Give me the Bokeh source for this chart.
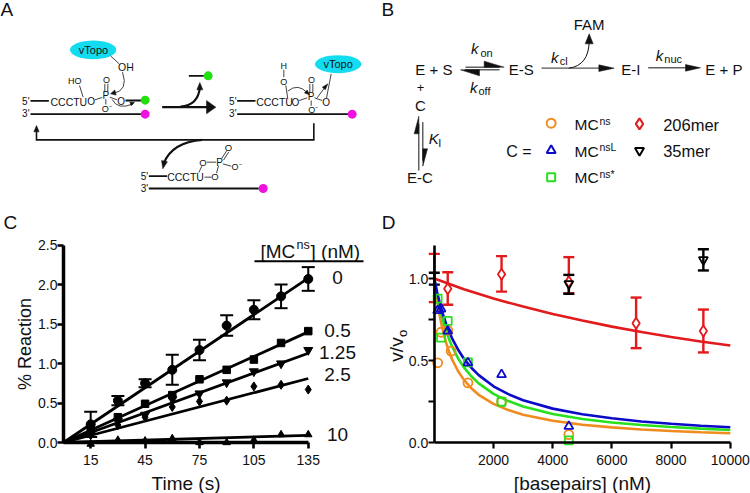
from bokeh.plotting import figure
from bokeh.layouts import column, row
from bokeh.models import Range1d, FixedTicker, Whisker, TeeHead, ColumnDataSource
from bokeh.core.properties import value
from bokeh.embed import file_html
from bokeh.resources import INLINE

FONT = "Liberation Sans"
SPLIT = 205  # page y where the upper panels end

# ---------- panel C data ----------
times = [15, 30, 45, 60, 75, 90, 105, 120, 135]
c_0 = [0.23, 0.53, 0.75, 0.92, 1.17, 1.48, 1.68, 1.85, 2.07]
c_0_err = [0.16, 0.06, 0.05, 0.19, 0.13, 0.13, 0.12, 0.15, 0.15]
c_05 = [0.15, 0.32, 0.49, 0.60, 0.80, 0.92, 1.05, 1.26, 1.41]
c_125 = [0.10, 0.27, 0.35, 0.55, 0.62, 0.76, 0.90, 1.00, 1.17]
c_25 = [0.10, 0.22, 0.32, 0.45, 0.52, 0.53, 0.71, 0.73, 0.67]
c_10 = [-0.02, 0.03, 0.02, 0.05, 0.00, 0.00, 0.03, 0.10, 0.10]
fit_t = [0, 135]
fit_0 = [0, 2.08]
fit_05 = [0, 1.40]
fit_125 = [0, 1.13]
fit_25 = [0, 0.81]
fit_10 = [0, 0.09]
c_labels = ["0", "0.5", "1.25", "2.5", "10"]

# ---------- panel D data ----------
bp = [113, 227, 454, 568, 1136, 2272, 4545]
mc_ns = [0.487, 0.673, 0.684, 0.558, 0.365, 0.25, 0.05]
bp_star = [113, 227, 454, 1136, 2272, 4545]
mc_star = [0.878, 0.64, 0.742, 0.49, 0.25, 0.015]
mc_nsl = [0.805, 0.815, 0.68, 0.487, 0.415, 0.10]
bp_206 = [0, 454, 2272, 4545, 6818, 9090]
y_206 = [1.0, 0.937, 1.026, 0.98, 0.728, 0.68]
lo_206 = [0.856, 0.84, 0.92, 0.91, 0.576, 0.55]
hi_206 = [1.15, 1.038, 1.136, 1.13, 0.884, 0.811]
bp_35 = [0, 4545, 9090]
y_35 = [1.0, 0.968, 1.114]
lo_35 = [0.963, 0.907, 1.049]
hi_35 = [1.035, 1.022, 1.178]
curve_x = [0, 100, 200, 300, 400, 500, 600, 800, 1000, 1250, 1500, 2000, 2500, 3000,
           4000, 5000, 6000, 7000, 8000, 9000, 10000]
curve_nsl = [1, .913, .84, .778, .724, .677, .636, .568, .512, .457, .412, .344, .296, .259,
             .208, .174, .149, .130, .116, .104, .095]
curve_star = [1, .895, .81, .739, .68, .63, .586, .515, .459, .405, .362, .298, .254, .221,
              .175, .145, .124, .108, .096, .086, .078]
curve_ns = [1, .861, .756, .674, .608, .554, .508, .437, .383, .332, .292, .237, .199, .171,
            .134, .110, .094, .081, .072, .064, .058]
curve_x206 = [0, 1000, 2000, 3000, 4000, 5000, 6000, 7000, 8000, 9000, 10000]
curve_206 = [1, .935, .878, .829, .784, .744, .707, .674, .644, .617, .592]

ORANGE, GREEN, BLUE, RED = "#F08C1E", "#29E01F", "#0B0BC8", "#E31A1C"
CYAN, LIME, MAGENTA = "#14DCF0", "#22E010", "#F010E0"


def base(w, h, xr, yr, axes=True):
    p = figure(width=w, height=h, x_range=Range1d(*xr), y_range=Range1d(*yr),
               output_backend="svg", toolbar_location=None, min_border=0,
               x_axis_type="linear" if axes else None, y_axis_type="linear" if axes else None)
    p.outline_line_color = None
    p.grid.visible = False
    return p


class Pen:
    """Draws a schematic in the coordinates of a 3x enlarged sketch."""
    def __init__(self, p, ox=0.0):
        self.p, self.ox = p, ox

    def X(self, x):
        return self.ox + x / 3

    def text(self, x, y, s, size=10, align="center", style="normal", color="#111111", base="middle"):
        self.p.text(x=[self.X(x)], y=[y / 3], text=[s], text_font=value(FONT),
                    text_font_size=f"{size}px", text_align=align, text_baseline=base,
                    text_font_style=style, text_color=color)

    def line(self, xs, ys, w=0.8, color="#111111"):
        self.p.line([self.X(v) for v in xs], [v / 3 for v in ys], line_width=w, line_color=color,
                    line_cap="butt", line_join="miter")

    def curve(self, x0, y0, cx, cy, x1, y1, w=0.8, color="#111111"):
        self.p.quadratic(x0=[self.X(x0)], y0=[y0 / 3], cx=[self.X(cx)], cy=[cy / 3],
                         x1=[self.X(x1)], y1=[y1 / 3], line_width=w, line_color=color)

    def head(self, tx, ty, bx, by, half, color="#111111", side=0):
        """Triangle with tip (tx,ty), base centre (bx,by); side=+1/-1 keeps one half only."""
        dx, dy = tx - bx, ty - by
        n = (dx * dx + dy * dy) ** 0.5
        ux, uy = -dy / n * half, dx / n * half
        a = (bx + ux, by + uy) if side >= 0 else (bx, by)
        b = (bx - ux, by - uy) if side <= 0 else (bx, by)
        self.p.patch([self.X(tx), self.X(a[0]), self.X(b[0])], [ty / 3, a[1] / 3, b[1] / 3],
                     fill_color=color, line_color=color, line_width=0.5)

    def dot(self, x, y, color, d=9):
        self.p.scatter([self.X(x)], [y / 3], marker="circle", size=d, fill_color=color, line_color=None)

    def oval(self, x, y, w, h, color):
        self.p.ellipse([self.X(x)], [y / 3], width=w / 3, height=h / 3, fill_color=color, line_color=None)


# ---------- panel A ----------
A = base(375, SPLIT, (0, 375), (SPLIT, 0), axes=False)
a = Pen(A)
a.text(0, 26, "A", 19, align="left")
# left substrate
a.oval(278, 148, 139, 56, CYAN)
a.text(279, 148, "vTopo", 11)
a.line([330, 356], [166, 190])
a.text(376, 200, "OH", 10.5)
a.curve(366, 215, 385, 270, 338, 279)
a.head(330, 280, 345, 276, 8)
a.text(76, 302, "5'", 10, align="center")
a.line([90, 145], [301, 301], 1.8)
a.text(205, 304, "CCCTU", 10.5)
a.text(272, 303, "O", 10)
a.line([283, 305], [298, 291])
a.text(316, 285, "P", 10)
a.text(318, 238, "O", 9)
a.line([313, 313], [250, 275])
a.line([322, 322], [250, 275])
a.text(319, 324, "O⁻", 9)
a.line([316, 316], [296, 312])
a.line([328, 350], [290, 298])
a.text(362, 302, "O", 10)
a.line([375, 430], [300, 300], 1.8)
a.dot(434, 299, LIME)
a.text(223, 241, "HO", 9)
a.line([237, 248], [255, 290])
a.curve(335, 297, 352, 330, 398, 310)
a.head(402, 306, 390, 310, 6)
a.text(76, 340, "3'", 10)
a.line([90, 430], [341, 341], 1.8)
a.dot(434, 341, MAGENTA)
# big arrow with leaving fragment
a.line([485, 620], [320, 320], 2.2)
a.head(646, 320, 618, 320, 20)
a.curve(540, 318, 592, 315, 598, 262, 2.2)
a.head(598, 246, 598, 268, 9)
a.line([565, 610], [226, 226], 1.8)
a.dot(623, 226, LIME)
# right intermediate
a.text(697, 302, "5'", 10)
a.line([710, 765], [301, 301], 1.8)
a.text(822, 305, "CCCTU", 10.5)
a.text(885, 305, "O", 10)
a.line([896, 920], [300, 292])
a.text(932, 288, "P", 10)
a.text(933, 237, "O", 9)
a.line([928, 928], [250, 276])
a.line([937, 937], [250, 276])
a.text(938, 327, "O⁻", 9)
a.line([932, 932], [300, 316])
a.text(850, 197, "H", 9)
a.line([850, 850], [208, 230])
a.text(850, 243, "O", 9)
a.line([856, 862], [255, 296])
a.curve(862, 272, 892, 246, 922, 278)
a.head(927, 283, 916, 273, 6)
a.oval(1013, 191, 139, 54, CYAN)
a.text(1013, 191, "vTopo", 11)
a.line([992, 978], [220, 293])
a.text(977, 305, "O", 10)
a.line([942, 965], [292, 300])
a.line([950, 975], [292, 258])
a.head(982, 250, 970, 264, 6)
a.text(697, 340, "3'", 10)
a.line([710, 1045], [341, 341], 1.8)
a.dot(1055, 341, MAGENTA)
# return path
a.line([940, 940, 108, 108], [368, 418, 418, 392], 1.6)
a.head(108, 375, 108, 394, 8)
a.curve(605, 418, 515, 425, 490, 488, 2.2)
a.head(487, 505, 492, 482, 9)
# bottom cyclic product
a.text(432, 527, "5'", 10)
a.line([445, 500], [527, 527], 1.8)
a.text(555, 530, "CCCTU", 10.5)
a.line([612, 633], [530, 530])
a.text(643, 528, "O", 9.5)
a.line([595, 604], [516, 497])
a.text(607, 485, "O", 9.5)
a.line([619, 647], [485, 485])
a.text(657, 485, "P", 10)
a.line([648, 654], [518, 496])
a.line([663, 679], [475, 450])
a.line([669, 685], [479, 454])
a.text(684, 442, "O", 9.5)
a.line([667, 692], [490, 497])
a.text(708, 498, "O⁻", 9)
a.text(432, 565, "3'", 10)
a.line([445, 775], [564, 564], 1.8)
a.dot(788, 564, MAGENTA)

# ---------- panel B ----------
B = base(375, SPLIT, (375, 750), (SPLIT, 0), axes=False)
b = Pen(B, 375)
b.text(18, 28, "B", 19, align="left")
b.text(175, 207, "E + S", 15)
b.text(437, 208, "E-S", 15)
b.text(766, 208, "E-I", 15)
b.text(1045, 207, "E + P", 15)
b.text(641, 72, "FAM", 15)
b.text(135, 260, "+", 13)
b.text(135, 315, "C", 15)
b.text(133, 532, "E-C", 15)
b.text(298, 143, "k", 15, style="italic")
b.text(333, 156, "on", 11)
b.text(295, 260, "k", 15, style="italic")
b.text(327, 272, "off", 11)
b.line([270, 372], [200, 200], 1)
b.head(386, 200, 326, 200, 18, side=-1)
b.line([268, 372], [208, 208], 1)
b.head(255, 208, 312, 208, 18, side=-1)
b.text(538, 170, "k", 15, style="italic")
b.text(565, 182, "cl", 11)
b.line([498, 680], [203, 203], 1.4, color="#555555")
b.head(716, 203, 670, 203, 10)
b.curve(580, 203, 640, 195, 641, 122, 1)
b.head(641, 100, 641, 130, 12)
b.text(852, 165, "k", 15, style="italic")
b.text(893, 176, "nuc", 11)
b.line([818, 935], [202, 202], 1)
b.head(975, 202, 930, 202, 10)
b.line([130, 130], [370, 510], 1)
b.head(130, 347, 130, 400, 14, side=-1)
b.line([142, 142], [365, 480], 1)
b.head(142, 497, 142, 445, 14, side=-1)
b.text(175, 415, "K", 15, style="italic")
b.text(193, 428, "I", 11)
b.text(430, 452, "C =", 16)
legend = [(527, 368, "circle", ORANGE, 9), (527, 450, "triangle", BLUE, 9), (527, 530, "square", GREEN, 8),
          (792, 370, "diamond", RED, 11), (792, 450, "inverted_triangle", "#000000", 9)]
for lx, ly, m, col, sz in legend:
    B.scatter([375 + lx / 3], [ly / 3], marker=m, size=sz, fill_color=None, line_color=col, line_width=2)
for ty, sup in [(372, "ns"), (452, "nsL"), (532, "ns*")]:
    b.text(597, ty, "MC", 15.5, align="left")
    b.text(672, ty - 12, sup, 10.5, align="left")
b.text(863, 372, "206mer", 16.5, align="left")
b.text(863, 452, "35mer", 16.5, align="left")


def style_axes(p, xticks, yticks, yminor=()):
    xa, ya = p.xaxis[0], p.yaxis[0]
    xa.fixed_location = 0
    ya.fixed_location = 0
    xa.ticker = FixedTicker(ticks=xticks)
    ya.ticker = FixedTicker(ticks=yticks, minor_ticks=list(yminor))
    for ax in (xa, ya):
        ax.major_label_text_font = FONT
        ax.major_label_text_font_size = "14px"
        ax.major_label_text_color = "#111111"
        ax.axis_label_text_font = FONT
        ax.axis_label_text_font_style = "normal"
        ax.axis_label_text_font_size = "19px"
        ax.axis_label_text_color = "#111111"
        ax.major_tick_out = 6
        ax.major_tick_in = 0
        ax.minor_tick_out = 0
        ax.minor_tick_in = 0
        ax.major_tick_line_color = "#000000"
        ax.axis_line_color = "#000000"
    return xa, ya


# ---------- panel C ----------
CX0, CXK, CY0, CYK = 63.0, 1.813, 442.0, 79.0
C = base(375, 493 - SPLIT, ((0 - CX0) / CXK, (375 - CX0) / CXK), ((CY0 - 493) / CYK, (CY0 - SPLIT) / CYK))
xa, ya = style_axes(C, [15, 45, 75, 105, 135], [0, 0.5, 1.0, 1.5, 2.0, 2.5])
xa.bounds = (0, 135)
ya.bounds = (0, 2.5)
for ax in (xa, ya):
    ax.axis_line_width = 3.5
    ax.major_tick_line_width = 2.6
xa.major_label_overrides = {15: "15", 45: "45", 75: "75", 105: "105", 135: "135"}
ya.major_label_overrides = {0: "0.0", 0.5: "0.5", 1.0: "1.0", 1.5: "1.5", 2.0: "2.0", 2.5: "2.5"}
xa.major_label_standoff = 6
ya.major_label_standoff = 0
xa.axis_label = "Time (s)"
xa.axis_label_standoff = 5
ya.axis_label = "% Reaction"
ya.axis_label_text_font_size = "18px"
ya.axis_label_standoff = 0

for vals in (fit_0, fit_05, fit_125, fit_25, fit_10):
    C.line(fit_t, vals, line_width=2.8, line_color="#000000")
src = ColumnDataSource(dict(t=times, lo=[v - e for v, e in zip(c_0, c_0_err)], hi=[v + e for v, e in zip(c_0, c_0_err)]))
C.add_layout(Whisker(base="t", lower="lo", upper="hi", source=src, line_width=2, line_color="#000000",
                     upper_head=TeeHead(size=13, line_width=2, line_color="#000000"),
                     lower_head=TeeHead(size=13, line_width=2, line_color="#000000")))
for vals, m, sz in ((c_0, "circle", 9), (c_05, "square", 7.5), (c_125, "inverted_triangle", 9),
                    (c_25, "diamond", 9), (c_10, "triangle", 7.5)):
    C.scatter(times, vals, marker=m, size=sz, fill_color="#000000", line_color="#000000")


def cpx(px, py):
    return [(px - CX0) / CXK], [(CY0 - py) / CYK]


for lab, py in zip(c_labels, (277, 330, 352, 374, 434)):
    lx, ly = cpx(337, py)
    C.text(lx, ly, text=[lab], text_font=value(FONT), text_font_size="19px", text_align="center",
           text_baseline="middle", text_color="#111111")
for s, px, py, sz in (("[MC", 260, 251, 19), ("ns", 296, 244, 12.5), ("] (nM)", 310, 251, 19)):
    lx, ly = cpx(px, py)
    C.text(lx, ly, text=[s], text_font=value(FONT), text_font_size=f"{sz}px", text_align="left",
           text_baseline="alphabetic", text_color="#111111")
C.line(*[[(v - CX0) / CXK for v in (254, 363)], [(CY0 - 260.7) / CYK] * 2], line_width=2, line_color="#000000")
lx, ly = cpx(3, 222)
C.text(lx, ly, text=["C"], text_font=value(FONT), text_font_size="19px", text_align="left",
       text_baseline="middle", text_color="#111111")

# ---------- panel D ----------
DX0, DXK, DY0, DYK = 433.8, 0.0296, 442.3, 164.3
D = base(375, 493 - SPLIT, ((375 - DX0) / DXK, (750 - DX0) / DXK), ((DY0 - 493) / DYK, (DY0 - SPLIT) / DYK))
xa, ya = style_axes(D, [2000, 4000, 6000, 8000, 10000], [0, 0.5, 1.0], [0.25, 0.75])
xa.bounds = (0, 10000)
ya.bounds = (0, 1.2)
ya.minor_tick_out = 6
ya.minor_tick_line_width = 2.2
ya.minor_tick_line_color = "#000000"
for ax in (xa, ya):
    ax.axis_line_width = 2.6
    ax.major_tick_line_width = 2.2
ya.major_label_overrides = {0: "0.0", 0.5: "0.5", 1.0: "1.0"}
xa.major_label_standoff = 6
ya.major_label_standoff = 0
xa.axis_label = "[basepairs] (nM)"
xa.axis_label_standoff = 5

D.line(curve_x206, curve_206, line_width=2.6, line_color=RED)
D.line(curve_x, curve_ns, line_width=2.6, line_color=ORANGE)
D.line(curve_x, curve_star, line_width=2.6, line_color=GREEN)
D.line(curve_x, curve_nsl, line_width=2.6, line_color=BLUE)
for xs, lo, hi, col in ((bp_206, lo_206, hi_206, RED), (bp_35, lo_35, hi_35, "#000000")):
    s = ColumnDataSource(dict(x=xs, lo=lo, hi=hi))
    D.add_layout(Whisker(base="x", lower="lo", upper="hi", source=s, line_width=2.4, line_color=col,
                         upper_head=TeeHead(size=11, line_width=2.4, line_color=col),
                         lower_head=TeeHead(size=11, line_width=2.4, line_color=col)))
D.scatter(bp_206[1:], y_206[1:], marker="diamond", size=11, fill_color="white", line_color=RED, line_width=1.8)
D.scatter(bp_35[1:], y_35[1:], marker="inverted_triangle", size=9, fill_color=None, line_color="#000000", line_width=1.8)
D.scatter(bp, mc_ns, marker="circle", size=9, fill_color=None, line_color=ORANGE, line_width=1.8)
D.scatter(bp_star, mc_star, marker="square", size=8, fill_color=None, line_color=GREEN, line_width=1.8)
D.scatter(bp_star, mc_nsl, marker="triangle", size=9, fill_color=None, line_color=BLUE, line_width=1.8)


def dpx(px, py):
    return [(px - DX0) / DXK], [(DY0 - py) / DYK]


lx, ly = dpx(388, 222)
D.text(lx, ly, text=["D"], text_font=value(FONT), text_font_size="19px", text_align="center",
       text_baseline="middle", text_color="#111111")
lx, ly = dpx(396, 349)
D.text(lx, ly, text=["v/v"], angle=1.5708, text_font=value(FONT), text_font_size="19px", text_align="center",
       text_baseline="alphabetic", text_color="#111111")
lx, ly = dpx(402, 333)
D.text(lx, ly, text=["o"], angle=1.5708, text_font=value(FONT), text_font_size="13px", text_align="center",
       text_baseline="alphabetic", text_color="#111111")

page = column(row(A, B), row(C, D))
open("out.html", "w").write(file_html(page, INLINE))
